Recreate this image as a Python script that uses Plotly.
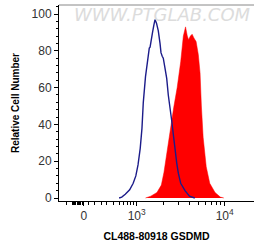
import plotly.graph_objects as go

# x values are in display decades (log10 of fluorescence; biexponential near 0)
blue_x = [2.80, 2.83, 2.87, 2.92, 2.96, 2.99, 3.015, 3.04, 3.06, 3.075, 3.10, 3.125, 3.143, 3.152, 3.165,
          3.18, 3.195, 3.208, 3.225, 3.245, 3.265, 3.276, 3.29, 3.302, 3.32, 3.341, 3.359, 3.378, 3.398,
          3.42, 3.435, 3.455, 3.473, 3.50, 3.549, 3.60, 3.66]
blue_y = [0, 0.5, 2, 4.5, 8, 12, 18, 27, 38, 52, 66, 76, 81.5, 82, 85,
          90, 94, 97, 95, 91, 84, 79, 77, 76, 71, 65, 56, 50, 42,
          33, 26, 19, 13.5, 8, 4, 1, 0]

red_x = [3.10, 3.16, 3.23, 3.28, 3.31, 3.34, 3.38, 3.42, 3.46, 3.50, 3.53, 3.555, 3.575, 3.59, 3.61,
         3.63, 3.65, 3.675, 3.70, 3.72, 3.735, 3.755, 3.79, 3.83, 3.89, 3.95, 3.99]
red_y = [0, 1, 3, 7, 14, 24, 37, 49, 60, 74, 88, 93, 88, 86, 88,
         89, 87, 85, 78, 68, 50, 33, 17, 8, 3, 0.5, 0]

x_tickvals = [2.40, 3, 4]
x_ticktext = ["0", "10<sup>3</sup>", "10<sup>4</sup>"]
x_minor = [2.205, 2.265, 2.277, 2.288, 2.30, 2.31, 2.322, 2.333, 2.345, 2.356, 2.386, 2.45, 2.526,
           2.602, 2.66, 2.734, 2.80, 2.848, 2.89, 2.93, 2.964,
           3.301, 3.477, 3.602, 3.699, 3.778, 3.845, 3.903, 3.954]
y_tickvals = [0, 20, 40, 60, 80, 100]

fig = go.Figure()
fig.add_trace(go.Scatter(x=red_x, y=red_y, mode="lines", fill="tozeroy",
                         line=dict(color="#ff0000", width=0.5), fillcolor="#ff0000",
                         hoverinfo="skip"))
fig.add_trace(go.Scatter(x=blue_x, y=blue_y, mode="lines",
                         line=dict(color="#1c1c8a", width=1.4), hoverinfo="skip"))

font = "Liberation Sans, Arial, sans-serif"
fig.update_layout(
    width=254, height=249,
    margin=dict(l=59, r=0, t=5, b=48, autoexpand=False),
    paper_bgcolor="white", plot_bgcolor="white",
    showlegend=False,
    font=dict(family=font, size=12, color="#333333"),
    xaxis=dict(range=[2.117, 4.333], showgrid=False, zeroline=False, automargin=False,
               showline=True, linecolor="black", linewidth=1,
               tickmode="array", tickvals=x_tickvals, ticktext=x_ticktext,
               ticks="outside", ticklen=4, tickwidth=1, tickcolor="black",
               tickfont=dict(size=12, color="#333333"),
               minor=dict(tickmode="array", tickvals=x_minor, ticks="outside",
                          ticklen=3, tickwidth=1, tickcolor="black", showgrid=False),
               title=dict(text="<b>CL488-80918 GSDMD</b>", font=dict(size=10.5, color="black"),
                          standoff=10)),
    yaxis=dict(range=[-1.63, 104.9], showgrid=False, zeroline=False, automargin=False,
               showline=True, linecolor="black", linewidth=1,
               tickmode="array", tickvals=y_tickvals,
               ticks="outside", ticklen=4, tickwidth=1, tickcolor="black",
               tickfont=dict(size=12, color="#333333"),
               minor=dict(dtick=4, tick0=0, ticks="outside", ticklen=2, tickwidth=1,
                          tickcolor="black", showgrid=False),
               title=dict(text="<b>Relative Cell Number</b>", font=dict(size=10, color="black"),
                          standoff=10)),
)
fig.add_shape(type="line", xref="paper", yref="paper", x0=0, x1=1, y0=1, y1=1,
              line=dict(color="#888888", width=1))
fig.add_annotation(text="<i>WWW.PTGLAB.COM</i>", xref="paper", yref="paper",
                   x=0.533, y=0.954, xanchor="center", yanchor="middle", showarrow=False,
                   font=dict(family="DejaVu Sans, sans-serif", size=18, color="#dcdcdc"))
fig.write_html("out.html", config={"displayModeBar": False},
               post_script="document.body.style.margin='0';")
